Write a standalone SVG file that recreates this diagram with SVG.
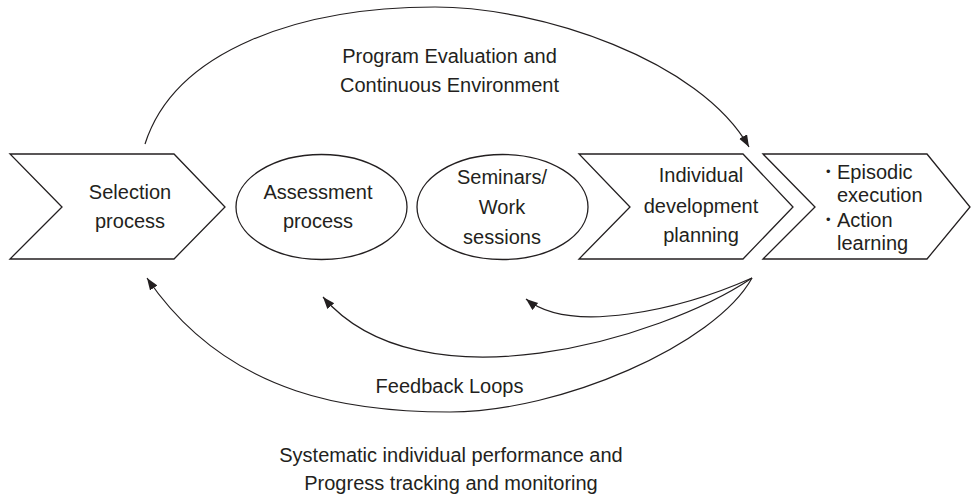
<svg xmlns="http://www.w3.org/2000/svg" width="971" height="498" viewBox="0 0 971 498">
<style>
.shape{fill:#fff;stroke:#231f20;stroke-width:1.3;stroke-linejoin:miter}
.conn{fill:none;stroke:#231f20;stroke-width:1.2}
text{font-family:"Liberation Sans",Arial,sans-serif;font-size:20px;fill:#231f20}
.c{text-anchor:middle}
</style>
<defs>
<marker id="ah" markerUnits="userSpaceOnUse" markerWidth="14" markerHeight="10" refX="12" refY="4.5" orient="auto">
<path d="M0,0 L12,4.5 L0,9 Z" fill="#231f20"/>
</marker>
</defs>
<rect width="971" height="498" fill="#fff"/>
<g id="selection">
<polygon class="shape" points="10,154 174,154 225,207 174,259 10,259 62,207"/>
<text class="c" x="130" y="199">Selection</text>
<text class="c" x="130" y="228">process</text>
</g>
<g id="assessment">
<ellipse class="shape" cx="321.5" cy="207" rx="85.5" ry="52.5"/>
<text class="c" x="318" y="199">Assessment</text>
<text class="c" x="318" y="228">process</text>
</g>
<g id="seminars">
<ellipse class="shape" cx="502.5" cy="207" rx="85.5" ry="52.5"/>
<text class="c" x="502" y="184">Seminars/</text>
<text class="c" x="502" y="214">Work</text>
<text class="c" x="502" y="244">sessions</text>
</g>
<g id="individual">
<polygon class="shape" points="579,154 743,154 793,207 743,259 579,259 630,207"/>
<text class="c" x="701" y="182">Individual</text>
<text class="c" x="701" y="213">development</text>
<text class="c" x="701" y="242">planning</text>
</g>
<g id="episodic">
<polygon class="shape" points="763,154 927,154 970,207 927,259 763,259 815,207"/>
<text x="826" y="179"><tspan font-size="13" dy="-3">•</tspan><tspan x="837" dy="3">Episodic</tspan></text>
<text x="837" y="202">execution</text>
<text x="826" y="227"><tspan font-size="13" dy="-3">•</tspan><tspan x="837" dy="3">Action</tspan></text>
<text x="837" y="250">learning</text>
</g>
<g id="connectors">
<path class="conn" marker-end="url(#ah)" d="M145,144 C175,50 300,7 435,7 C540,7 700,60 749,147"/>
<path class="conn" marker-end="url(#ah)" d="M752,278 C680,310 570,335 526,299"/>
<path class="conn" marker-end="url(#ah)" d="M752,278 C660,340 420,410 323,297"/>
<path class="conn" marker-end="url(#ah)" d="M752,278 C715,345 560,412 450,412 C360,412 230,400 147,278"/>
</g>
<g id="labels">
<text class="c" x="449.5" y="63">Program Evaluation and</text>
<text class="c" x="449.5" y="92">Continuous Environment</text>
<text class="c" x="449.5" y="393">Feedback Loops</text>
<text class="c" x="451" y="462">Systematic individual performance and</text>
<text class="c" x="451" y="490">Progress tracking and monitoring</text>
</g>
</svg>
